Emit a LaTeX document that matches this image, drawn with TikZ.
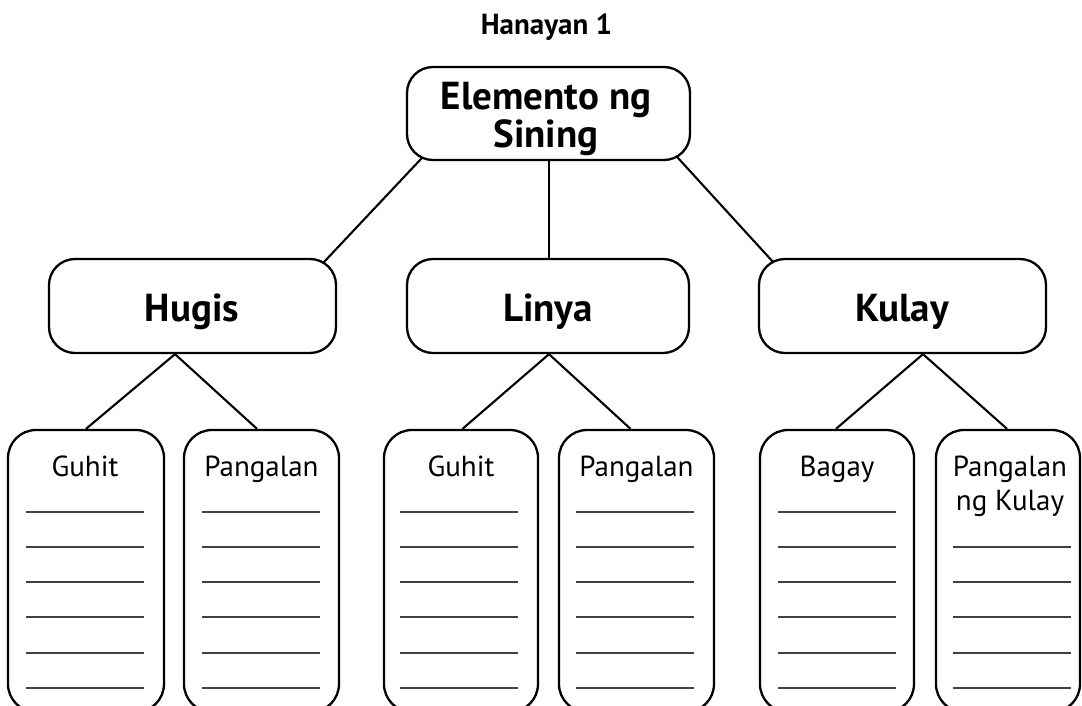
\documentclass[tikz,border=0pt]{standalone}
\usepackage{fontspec}
\setmainfont{PT Sans}
\usetikzlibrary{calc,backgrounds}
\begin{document}
\begin{tikzpicture}[x=1pt,y=-1pt,
  box/.style={draw, line width=2.3pt, fill=white, rounded corners=26pt, inner sep=0pt},
  conn/.style={line width=2.1pt},
  blank/.style={line width=1.4pt, draw=black!75},
  title/.style={font=\fontsize{29}{32}\selectfont\bfseries, anchor=base},
  head/.style={font=\fontsize{39}{42}\selectfont\bfseries, anchor=base},
  item/.style={font=\fontsize{29}{34}\selectfont, anchor=base, align=center}]
\useasboundingbox (0,0) rectangle (1082,706);
\clip (0,0) rectangle (1082,706);

% title
\node[title] (ttl) at (546.5,35) {Hanayan 1};

% top box
\node[box, minimum width=283pt, minimum height=93pt] (top) at (548.5,113.5) {};
\node[font=\fontsize{39}{30}\selectfont\bfseries, align=center] (toptxt) at (546,119) {Elemento ng\\Sining};

% middle boxes
\node[box, minimum width=287pt, minimum height=94pt] (hugis) at (192.5,306) {};
\node[box, minimum width=282pt, minimum height=94pt] (linya) at (548,306) {};
\node[box, minimum width=287pt, minimum height=94pt] (kulay) at (902.5,306) {};
\node[head] (thugis) at (192,321) {Hugis};
\node[head] (tlinya) at (548,321) {Linya};
\node[head] (tkulay) at (902,321) {Kulay};

% bottom boxes
\node[box, rounded corners=28pt, minimum width=156pt, minimum height=282pt] (b1) at (86,571) {};
\node[box, rounded corners=28pt, minimum width=155pt, minimum height=282pt] (b2) at (261.5,571) {};
\node[box, rounded corners=28pt, minimum width=154pt, minimum height=282pt] (b3) at (461,571) {};
\node[box, rounded corners=28pt, minimum width=155pt, minimum height=282pt] (b4) at (636.5,571) {};
\node[box, rounded corners=28pt, minimum width=154pt, minimum height=282pt] (b5) at (837,571) {};
\node[box, rounded corners=28pt, minimum width=144pt, minimum height=282pt] (b6) at (1008,571) {};

\node[item] (t1) at (85,476) {Guhit};
\node[item] (t2) at (261.5,476) {Pangalan};
\node[item] (t3) at (461,476) {Guhit};
\node[item] (t4) at (636.5,476) {Pangalan};
\node[item] (t5) at (837,476) {Bagay};
\node[item] (t6a) at (1010,476) {Pangalan};
\node[item] (t6b) at (1010,510) {ng Kulay};

% blanks
\foreach \b/\o in {b1/-1,b2/-0.5,b3/-2,b4/-1.5,b5/-0.5} {
  \foreach \y in {83,118,153,188,224,259} {
    \draw[blank] ($(\b.north)+(\o-59,\y)$) -- ($(\b.north)+(\o+59,\y)$);
  }
}
\foreach \y in {118,153,188,224,259} {
  \draw[blank] ($(b6.north)+(3.5-59,\y)$) -- ($(b6.north)+(3.5+59,\y)$);
}

% connectors
\begin{scope}[on background layer]
\draw[conn] ($(top.south west)+(22.5,-10)$) -- ($(hugis.north east)+(-19.6,11)$);
\draw[conn] (top.south -| 549,0) -- (linya.north -| 549,0);
\draw[conn] ($(top.south east)+(-19.4,-10)$) -- ($(kulay.north west)+(21.5,11)$);

\coordinate (ah) at ($(hugis.south)+(-17.5,0)$);
\draw[conn] (b1.north) -- (ah) -- ($(b2.north)+(-4.5,0)$);
\coordinate (al) at ($(linya.south)+(1,0)$);
\draw[conn] ($(b3.north)+(1.5,0)$) -- (al) -- ($(b4.north)+(-6,0)$);
\coordinate (ak) at ($(kulay.south)+(20.5,0)$);
\draw[conn] ($(b5.north)+(-1,0)$) -- (ak) -- ($(b6.north)+(-1,0)$);
\end{scope}
\end{tikzpicture}
\end{document}
